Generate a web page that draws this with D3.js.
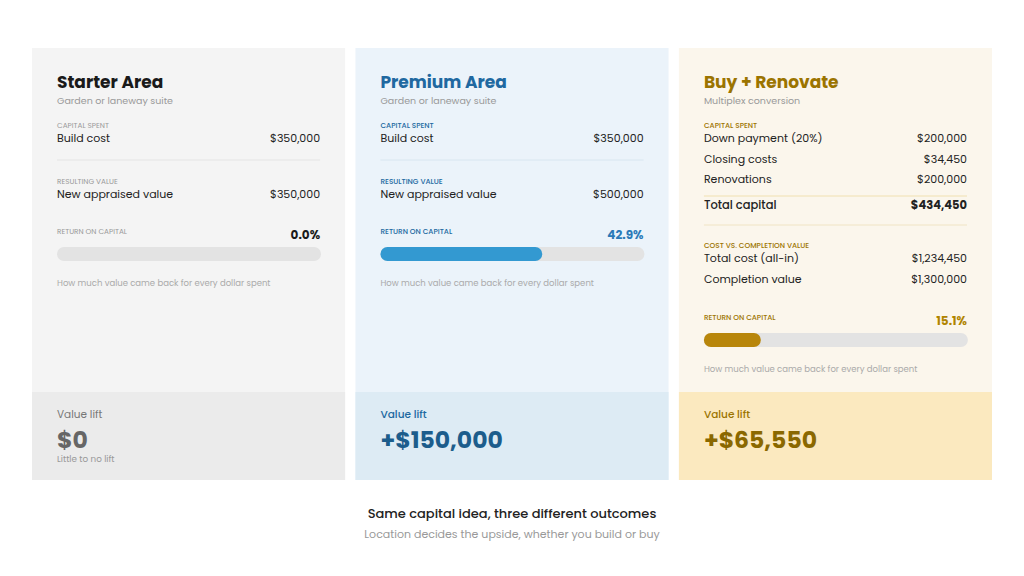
<!DOCTYPE html><html><head><meta charset="utf-8">
<script src="https://cdn.jsdelivr.net/npm/d3@7"></script>
<style>body{margin:0;background:#fff}svg{font-family:Poppins,Inter,"Open Sans",sans-serif}</style></head><body>
<svg id="c" width="1024" height="576"></svg>
<script>
const titles=["Starter Area","Premium Area","Buy + Renovate"];
const subtitles=["Garden or laneway suite","Garden or laneway suite","Multiplex conversion"];
const returns=[0.0,42.9,15.1];
const lifts=["$0","+$150,000","+$65,550"];
const liftNotes=["Little to no lift","",""];
const capitalRows=[[["Build cost","$350,000"]],[["Build cost","$350,000"]],[["Down payment (20%)","$200,000"],["Closing costs","$34,450"],["Renovations","$200,000"]]];
const valueRows=[[["New appraised value","$350,000"]],[["New appraised value","$500,000"]],[["Total cost (all-in)","$1,234,450"],["Completion value","$1,300,000"]]];
const themes=[
 {bg:"#f4f4f4",foot:"#ebebeb",title:"#1a1a1a",label:"#999",accent:"#1a1a1a",bar:"#aaa",liftC:"#666",liftL:"#777"},
 {bg:"#ebf3fa",foot:"#ddebf4",title:"#2068a0",label:"#2068a0",accent:"#2a7ab8",bar:"#3399d1",liftC:"#1c5d8c",liftL:"#2068a0"},
 {bg:"#fbf6ec",foot:"#fbe9bf",title:"#9b7400",label:"#9b7400",accent:"#b08400",bar:"#b8860b",liftC:"#8a6800",liftL:"#9b7400"}];
const svg=d3.select("#c");
const x=d3.scaleBand().domain([0,1,2]).range([32,992]).paddingInner(0.032);
const bw=x.bandwidth();
const bar=d3.scaleLinear().domain([0,70]).range([0,264]);
titles.forEach((t,i)=>{
 const th=themes[i],g=svg.append("g").attr("transform",`translate(${x(i)},48)`);
 g.append("rect").attr("width",bw).attr("height",432).attr("fill",th.bg);
 g.append("rect").attr("y",344).attr("width",bw).attr("height",88).attr("fill",th.foot);
 const L=25,R=bw-25;
 const tx=(s,xx,y,sz,c,w,a)=>g.append("text").attr("x",xx).attr("y",y).attr("font-size",sz).attr("fill",c).attr("font-weight",w||400).attr("text-anchor",a||"start").text(s);
 tx(t,L,40,17,th.title,700);
 tx(subtitles[i],L,56,9.5,"#999");
 tx("CAPITAL SPENT",L,80,7.3,th.label,i?500:400);
 let y=94;
 capitalRows[i].forEach(r=>{tx(r[0],L,y,11,"#222");tx(r[1],R,y,11,"#222",400,"end");y+=20.5;});
 if(i==2){
  g.append("line").attr("x1",L).attr("x2",R).attr("y1",148).attr("y2",148).attr("stroke","#f0e0b0");
  tx("Total capital",L,161,11.5,"#222",500);tx("$434,450",R,161,11.5,"#222",700,"end");
  g.append("line").attr("x1",L).attr("x2",R).attr("y1",177).attr("y2",177).attr("stroke","#f0e4c4");
  tx("COST VS. COMPLETION VALUE",L,200,7.3,th.label,500);
  y=214;
 } else {
  g.append("line").attr("x1",L).attr("x2",R).attr("y1",112).attr("y2",112).attr("stroke",i?"#d8e6f0":"#e4e4e4");
  tx("RESULTING VALUE",L,136,7.3,th.label,i?500:400);
  y=150;
 }
 valueRows[i].forEach(r=>{tx(r[0],L,y,11,"#222");tx(r[1],R,y,11,"#222",400,"end");y+=20.5;});
 const ry=i==2?272:186;
 tx("RETURN ON CAPITAL",L,ry,7.3,i?th.label:"#999",i?500:400);
 tx(returns[i].toFixed(1)+"%",R,ry+5,12,th.accent,700,"end");
 g.append("rect").attr("x",L).attr("y",ry+13).attr("width",264).attr("height",14).attr("rx",7).attr("fill","#e3e3e3");
 if(returns[i]>0)g.append("rect").attr("x",L).attr("y",ry+13).attr("width",bar(returns[i])).attr("height",14).attr("rx",7).attr("fill",th.bar);
 tx("How much value came back for every dollar spent",L,ry+52,8.5,"#aaa");
 tx("Value lift",L,370,10.5,th.liftL,i?500:400);
 tx(lifts[i],L,400,23.5,th.liftC,700);
 if(liftNotes[i])tx(liftNotes[i],L,414,8.8,"#999");
});
svg.append("text").attr("x",512).attr("y",518).attr("text-anchor","middle").attr("font-size",13).attr("fill","#222").attr("font-weight",500).text("Same capital idea, three different outcomes");
svg.append("text").attr("x",512).attr("y",538).attr("text-anchor","middle").attr("font-size",11).attr("fill","#999").text("Location decides the upside, whether you build or buy");
</script></body></html>
